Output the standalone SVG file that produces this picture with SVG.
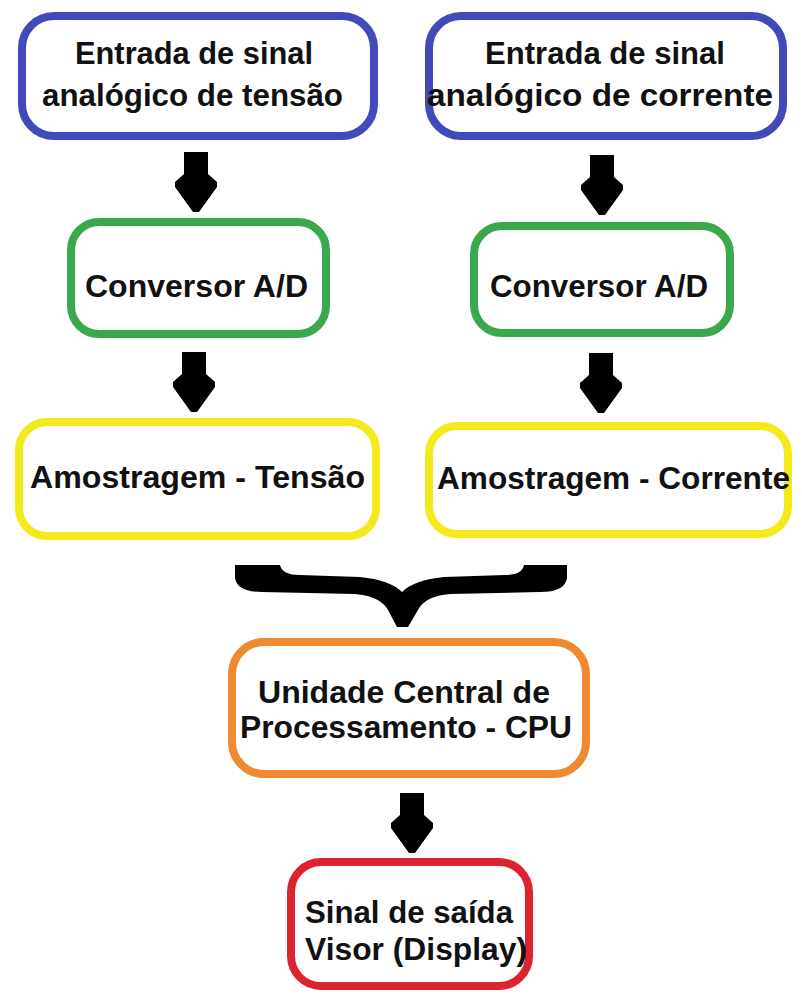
<svg xmlns="http://www.w3.org/2000/svg" xmlns:xlink="http://www.w3.org/1999/xlink" width="802" height="996" viewBox="0 0 802 996">
  <style>
    .box { fill: #ffffff; stroke-width: 8; }
    .blue { stroke: #4249b8; }
    .green { stroke: #3aa94c; }
    .yellow { stroke: #f3ea1c; }
    .orange { stroke: #f08a32; }
    .red { stroke: #dc2430; }
    .lbl { font-family: "Liberation Sans", Arial, sans-serif; font-weight: bold; font-size: 32px; fill: #111111; }
  </style>
  <defs>
    <!-- block arrow, tip at the origin -->
    <path id="arrow" d="M-12,-60 H12 V-38 L21,-30 L21,-25 L3,0 H-3 L-21,-25 L-21,-30 L-12,-38 Z" fill="#000000"/>
  </defs>
  <rect width="802" height="996" fill="#ffffff"/>

  <g id="connectors">
    <use xlink:href="#arrow" transform="translate(196,212)"/>
    <use xlink:href="#arrow" transform="translate(602,215)"/>
    <use xlink:href="#arrow" transform="translate(194,412)"/>
    <use xlink:href="#arrow" transform="translate(601,413)"/>
    <use xlink:href="#arrow" transform="translate(412,853)"/>
    <!-- brace joining both sampling stages into the CPU -->
    <path id="brace" fill="#000000" d="M235,565 L280,565 Q282,575 300,575 L360,577 Q390,580 402,592 Q414,580 444,577 L505,575 Q522,575 524,565 L567,565 L567,578 Q565,592 540,592 L450,594 Q425,596 418,610 L408,627 L397,627 L388,610 Q380,596 355,594 L262,592 Q237,592 235,578 Z"/>
  </g>

  <g id="in-tensao">
    <rect class="box blue" x="22" y="16" width="352" height="120" rx="32"/>
    <text class="lbl" x="75" y="64" textLength="238" lengthAdjust="spacingAndGlyphs">Entrada de sinal</text>
    <text class="lbl" x="42" y="106" textLength="301" lengthAdjust="spacingAndGlyphs">analógico de tensão</text>
  </g>
  <g id="in-corrente">
    <rect class="box blue" x="429" y="16" width="354" height="120" rx="32"/>
    <text class="lbl" x="485" y="64" textLength="240" lengthAdjust="spacingAndGlyphs">Entrada de sinal</text>
    <text class="lbl" x="427" y="106" textLength="346" lengthAdjust="spacingAndGlyphs">analógico de corrente</text>
  </g>
  <g id="ad-tensao">
    <rect class="box green" x="71" y="222" width="255" height="112" rx="28"/>
    <text class="lbl" x="85" y="297" textLength="223" lengthAdjust="spacingAndGlyphs">Conversor A/D</text>
  </g>
  <g id="ad-corrente">
    <rect class="box green" x="474" y="226" width="256" height="107" rx="28"/>
    <text class="lbl" x="490" y="297" textLength="218" lengthAdjust="spacingAndGlyphs">Conversor A/D</text>
  </g>
  <g id="amostra-tensao">
    <rect class="box yellow" x="19" y="422" width="357" height="114" rx="28"/>
    <text class="lbl" x="30" y="488" textLength="335" lengthAdjust="spacingAndGlyphs">Amostragem - Tensão</text>
  </g>
  <g id="amostra-corrente">
    <rect class="box yellow" x="429" y="426" width="359" height="108" rx="28"/>
    <text class="lbl" x="437" y="489" textLength="353" lengthAdjust="spacingAndGlyphs">Amostragem - Corrente</text>
  </g>
  <g id="cpu">
    <rect class="box orange" x="232" y="642" width="354" height="132" rx="32"/>
    <text class="lbl" x="258" y="703" textLength="292" lengthAdjust="spacingAndGlyphs">Unidade Central de</text>
    <text class="lbl" x="240" y="738" textLength="332" lengthAdjust="spacingAndGlyphs">Processamento - CPU</text>
  </g>
  <g id="saida">
    <rect class="box red" x="291" y="862" width="238" height="124" rx="30"/>
    <text class="lbl" x="305" y="923" textLength="208" lengthAdjust="spacingAndGlyphs">Sinal de saída</text>
    <text class="lbl" x="305" y="960" textLength="222" lengthAdjust="spacingAndGlyphs">Visor (Display)</text>
  </g>
</svg>
